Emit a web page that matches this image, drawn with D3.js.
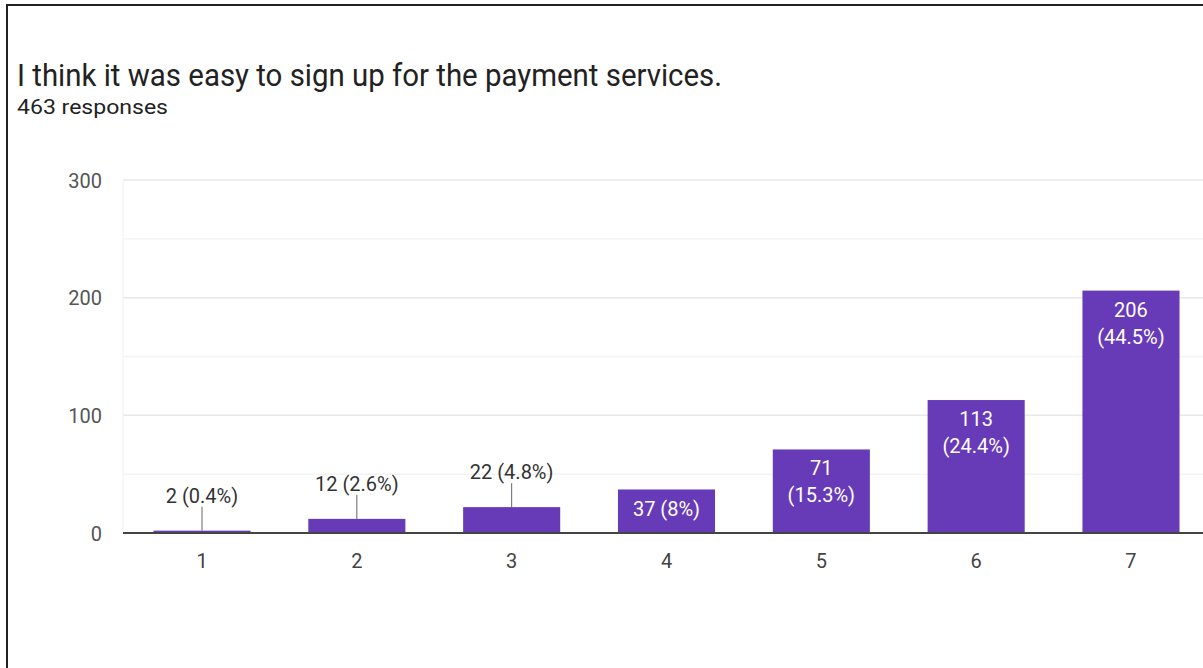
<!DOCTYPE html>
<html>
<head>
<meta charset="utf-8">
<script src="https://cdn.jsdelivr.net/npm/d3@7"></script>
<style>
  html, body { margin: 0; padding: 0; background: #fff; }
  svg { display: block; font-family: Roboto, "Noto Sans", Arial, sans-serif; }
</style>
</head>
<body>
<svg id="chart" width="1203" height="668"></svg>
<script>
// Survey question and response summary
const questionTitle = "I think it was easy to sign up for the payment services.";
const responseCount = "463 responses";

// Likert scale answers (1 = strongly disagree ... 7 = strongly agree)
const categories = ["1", "2", "3", "4", "5", "6", "7"];
const counts = [2, 12, 22, 37, 71, 113, 206];
const percents = ["0.4%", "2.6%", "4.8%", "8%", "15.3%", "24.4%", "44.5%"];

// Value axis
const majorTicks = [0, 100, 200, 300];
const minorTicks = [50, 150, 250];

const W = 1203, H = 668;
const svg = d3.select("#chart");

// Card frame (left and top edges)
svg.append("line").attr("x1", 7).attr("x2", 7).attr("y1", 5).attr("y2", H)
  .attr("stroke", "#222").attr("stroke-width", 2);
svg.append("line").attr("x1", 6).attr("x2", W).attr("y1", 5).attr("y2", 5)
  .attr("stroke", "#222").attr("stroke-width", 2);

// Heading
svg.append("text").attr("x", 17).attr("y", 86)
  .attr("font-size", 32).attr("fill", "#222")
  .attr("textLength", 705).attr("lengthAdjust", "spacingAndGlyphs")
  .text(questionTitle);
svg.append("text").attr("x", 17).attr("y", 114)
  .attr("font-size", 21).attr("fill", "#222")
  .attr("textLength", 151).attr("lengthAdjust", "spacingAndGlyphs")
  .text(responseCount);

// Scales
const plotLeft = 123, plotRight = W;
const x = d3.scaleBand().domain(categories)
  .range([124.6, 1208.4]).paddingInner(0.373).paddingOuter(0.1865);
const y = d3.scaleLinear().domain([0, 300]).range([533, 180]);

// Gridlines
const grid = svg.append("g");
grid.selectAll("line.minor").data(minorTicks).join("line")
  .attr("class", "minor")
  .attr("x1", plotLeft).attr("x2", plotRight)
  .attr("y1", d => y(d)).attr("y2", d => y(d))
  .attr("stroke", "#f3f3f3").attr("stroke-width", 1.5);
grid.selectAll("line.major").data(majorTicks.filter(d => d > 0)).join("line")
  .attr("class", "major")
  .attr("x1", plotLeft).attr("x2", plotRight)
  .attr("y1", d => y(d)).attr("y2", d => y(d))
  .attr("stroke", "#e8e8e8").attr("stroke-width", 1.5);
grid.append("line").attr("x1", plotLeft).attr("x2", plotLeft)
  .attr("y1", y(300)).attr("y2", y(0))
  .attr("stroke", "#f0f0f0").attr("stroke-width", 1);

// Y axis labels
const yAxis = d3.axisLeft(y).tickValues(majorTicks).tickSize(0).tickPadding(0);
const yG = svg.append("g").attr("transform", "translate(102,0)").call(yAxis);
yG.select(".domain").remove();
yG.selectAll("text").attr("font-size", 20).attr("fill", "#555")
  .attr("font-family", "Roboto, sans-serif").attr("dy", "0.36em");

// Bars
svg.append("g").selectAll("rect").data(counts).join("rect")
  .attr("x", (d, i) => x(categories[i]))
  .attr("width", x.bandwidth())
  .attr("y", d => y(d))
  .attr("height", d => y(0) - y(d))
  .attr("fill", "#673ab7");

// Baseline
svg.append("line").attr("x1", plotLeft).attr("x2", plotRight)
  .attr("y1", y(0)).attr("y2", y(0))
  .attr("stroke", "#444").attr("stroke-width", 2);

// X axis labels
const xAxis = d3.axisBottom(x).tickSize(0).tickPadding(0);
const xG = svg.append("g").attr("transform", "translate(0,568)").call(xAxis);
xG.select(".domain").remove();
xG.selectAll("text").attr("font-size", 20).attr("fill", "#444")
  .attr("font-family", "Roboto, sans-serif").attr("dy", 0);

// Value labels
const labels = svg.append("g").attr("font-size", 20).attr("text-anchor", "middle");
counts.forEach((v, i) => {
  const cx = x(categories[i]) + x.bandwidth() / 2;
  const top = y(v);
  const h = y(0) - top;
  if (h < 35) {
    // small bars: label above with a leader line
    labels.append("line").attr("x1", cx).attr("x2", cx)
      .attr("y1", top).attr("y2", top - 24)
      .attr("stroke", "#666").attr("stroke-width", 1);
    labels.append("text").attr("x", cx).attr("y", top - 28)
      .attr("fill", "#333").text(`${v} (${percents[i]})`);
  } else if (h < 60) {
    labels.append("text").attr("x", cx).attr("y", top + 27)
      .attr("fill", "#fff").text(`${v} (${percents[i]})`);
  } else {
    labels.append("text").attr("x", cx).attr("y", top + 26)
      .attr("fill", "#fff").text(`${v}`);
    labels.append("text").attr("x", cx).attr("y", top + 53)
      .attr("fill", "#fff").text(`(${percents[i]})`);
  }
});
</script>
</body>
</html>
